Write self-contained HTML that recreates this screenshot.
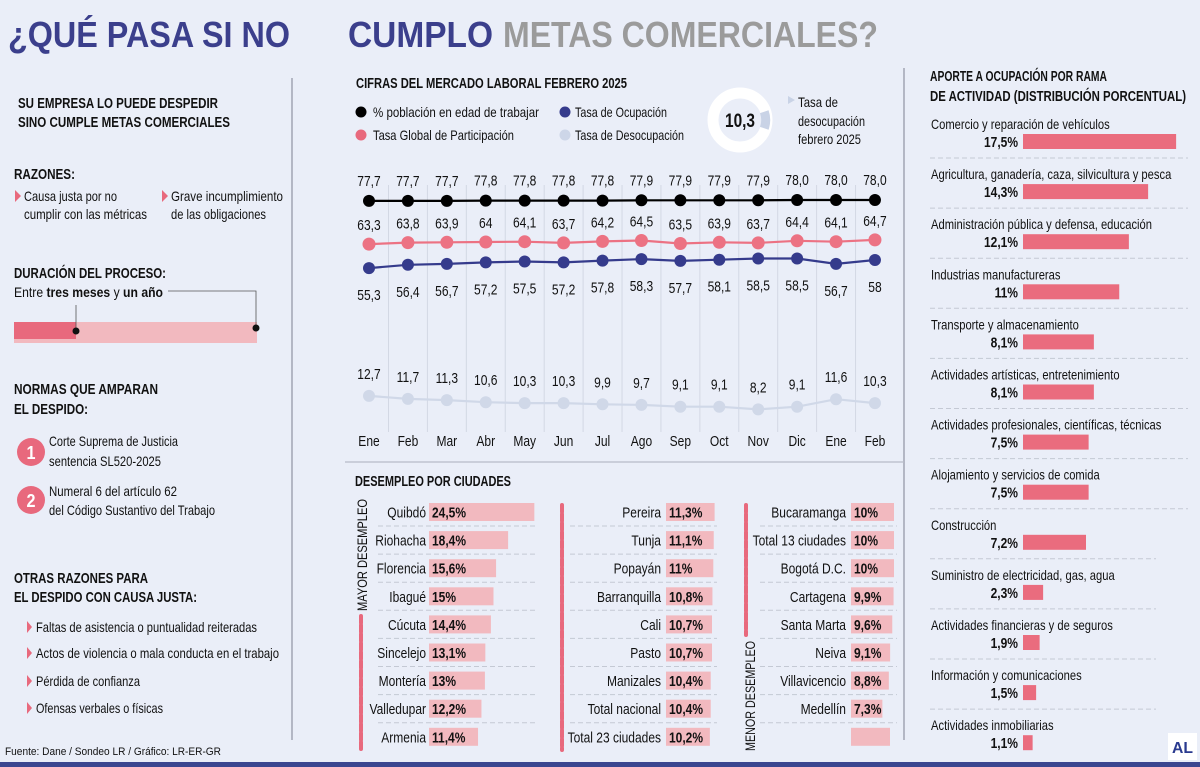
<!DOCTYPE html>
<html><head><meta charset="utf-8">
<style>
html,body{margin:0;padding:0;background:#eaeef8;}
svg{display:block;font-family:"Liberation Sans Narrow","Liberation Sans",sans-serif;}
.b{font-weight:bold;}
</style></head>
<body>
<svg id="pg" width="1200" height="767" viewBox="0 0 1200 767" xmlns="http://www.w3.org/2000/svg">
<rect width="1200" height="767" fill="#eaeef8"/>
<text x="8" y="47" font-size="36" class="b" fill="#3b3f8c" textLength="282" lengthAdjust="spacingAndGlyphs">¿QUÉ PASA SI NO</text>
<text x="348" y="47" font-size="36" class="b" fill="#3b3f8c" textLength="145" lengthAdjust="spacingAndGlyphs">CUMPLO</text>
<text x="503" y="47" font-size="36" class="b" fill="#9b9b9b" textLength="375" lengthAdjust="spacingAndGlyphs">METAS COMERCIALES?</text>
<line x1="292" y1="78" x2="292" y2="740" stroke="#8f93a3" stroke-width="1.2"/>
<line x1="904" y1="68" x2="904" y2="740" stroke="#8f93a3" stroke-width="1.2"/>
<line x1="345" y1="462" x2="904" y2="462" stroke="#b7bcc8" stroke-width="1.2"/>
<rect x="0" y="762" width="1200" height="5" fill="#3b4690"/>

<g fill="#111">
<text x="18" y="108" font-size="14.5" class="b" textLength="200" lengthAdjust="spacingAndGlyphs">SU EMPRESA LO PUEDE DESPEDIR</text>
<text x="18" y="127" font-size="14.5" class="b" textLength="212" lengthAdjust="spacingAndGlyphs">SINO CUMPLE METAS COMERCIALES</text>
<text x="14" y="179" font-size="15" class="b" textLength="61" lengthAdjust="spacingAndGlyphs">RAZONES:</text>
<polygon points="15,190 21,196 15,202" fill="#e8697d"/>
<text x="24" y="201" font-size="14" textLength="93" lengthAdjust="spacingAndGlyphs">Causa justa por no</text>
<text x="24" y="219" font-size="14" textLength="123" lengthAdjust="spacingAndGlyphs">cumplir con las métricas</text>
<polygon points="162,190 168,196 162,202" fill="#e8697d"/>
<text x="171" y="201" font-size="14" textLength="112" lengthAdjust="spacingAndGlyphs">Grave incumplimiento</text>
<text x="171" y="219" font-size="14" textLength="95" lengthAdjust="spacingAndGlyphs">de las obligaciones</text>
<text x="14" y="278" font-size="15" class="b" textLength="152" lengthAdjust="spacingAndGlyphs">DURACIÓN DEL PROCESO:</text>
<text x="14" y="297" font-size="14" textLength="149" lengthAdjust="spacingAndGlyphs">Entre <tspan class="b">tres meses</tspan> y <tspan class="b">un año</tspan></text>
<rect x="14" y="322" width="243" height="21" fill="#f2b9bf"/>
<rect x="14" y="322" width="62" height="17" fill="#e8697d"/>
<polyline points="168,291 256,291 256,328" fill="none" stroke="#555" stroke-width="0.8"/>
<line x1="76" y1="305" x2="76" y2="331" stroke="#555" stroke-width="0.8"/>
<circle cx="256" cy="328" r="3.5" fill="#111"/>
<circle cx="76" cy="331" r="3.5" fill="#111"/>
<text x="14" y="394" font-size="15" class="b" textLength="144" lengthAdjust="spacingAndGlyphs">NORMAS QUE AMPARAN</text>
<text x="14" y="414" font-size="15" class="b" textLength="74" lengthAdjust="spacingAndGlyphs">EL DESPIDO:</text>
<circle cx="31" cy="452" r="14" fill="#e8697d"/>
<text x="31" y="459" font-size="18" class="b" fill="#fff" text-anchor="middle" textLength="9" lengthAdjust="spacingAndGlyphs">1</text>
<text x="49" y="446" font-size="14" textLength="129" lengthAdjust="spacingAndGlyphs">Corte Suprema de Justicia</text>
<text x="49" y="466" font-size="14" textLength="112" lengthAdjust="spacingAndGlyphs">sentencia SL520-2025</text>
<circle cx="31" cy="500" r="14" fill="#e8697d"/>
<text x="31" y="507" font-size="18" class="b" fill="#fff" text-anchor="middle" textLength="9" lengthAdjust="spacingAndGlyphs">2</text>
<text x="49" y="496" font-size="14" textLength="128" lengthAdjust="spacingAndGlyphs">Numeral 6 del artículo 62</text>
<text x="49" y="515" font-size="14" textLength="166" lengthAdjust="spacingAndGlyphs">del Código Sustantivo del Trabajo</text>
<text x="14" y="583" font-size="15" class="b" textLength="134" lengthAdjust="spacingAndGlyphs">OTRAS RAZONES PARA</text>
<text x="14" y="602" font-size="15" class="b" textLength="183" lengthAdjust="spacingAndGlyphs">EL DESPIDO CON CAUSA JUSTA:</text>
<polygon points="27,621 32,627 27,633" fill="#e8697d"/>
<text x="36" y="632" font-size="14" textLength="221" lengthAdjust="spacingAndGlyphs">Faltas de asistencia o puntualidad reiteradas</text>
<polygon points="27,647 32,653 27,659" fill="#e8697d"/>
<text x="36" y="658" font-size="14" textLength="243" lengthAdjust="spacingAndGlyphs">Actos de violencia o mala conducta en el trabajo</text>
<polygon points="27,675 32,681 27,687" fill="#e8697d"/>
<text x="36" y="686" font-size="14" textLength="104" lengthAdjust="spacingAndGlyphs">Pérdida de confianza</text>
<polygon points="27,702 32,708 27,714" fill="#e8697d"/>
<text x="36" y="713" font-size="14" textLength="127" lengthAdjust="spacingAndGlyphs">Ofensas verbales o físicas</text>
<text x="5" y="755" font-size="11" font-family="Liberation Sans, sans-serif" textLength="216" lengthAdjust="spacingAndGlyphs">Fuente: Dane / Sondeo LR / Gráfico: LR-ER-GR</text>
</g>

<text x="356" y="88" font-size="14.5" class="b" fill="#111" textLength="271" lengthAdjust="spacingAndGlyphs">CIFRAS DEL MERCADO LABORAL FEBRERO 2025</text>
<g font-size="14" fill="#111">
<circle cx="361" cy="112" r="5.5" fill="#000"/>
<text x="373" y="117" textLength="166" lengthAdjust="spacingAndGlyphs">% población en edad de trabajar</text>
<circle cx="361" cy="135" r="5.5" fill="#e8697d"/>
<text x="373" y="140" textLength="141" lengthAdjust="spacingAndGlyphs">Tasa Global de Participación</text>
<circle cx="565" cy="112" r="5.5" fill="#353b8c"/>
<text x="575" y="117" textLength="92" lengthAdjust="spacingAndGlyphs">Tasa de Ocupación</text>
<circle cx="565" cy="135" r="5.5" fill="#cdd6e8"/>
<text x="575" y="140" textLength="109" lengthAdjust="spacingAndGlyphs">Tasa de Desocupación</text>
</g>
<g>
<circle cx="740" cy="120" r="27" fill="none" stroke="#fff" stroke-width="11"/>
<path d="M 764.3 111.7 A 25.5 25.5 0 0 1 764.3 128.3" fill="none" stroke="#c9d3e6" stroke-width="9"/>
<text x="740" y="127" font-size="19" class="b" fill="#111" text-anchor="middle" textLength="30" lengthAdjust="spacingAndGlyphs">10,3</text>
<polygon points="788,96 795,100 788,104" fill="#c9d3e6"/>
<text x="798" y="107" font-size="14" fill="#111" textLength="40" lengthAdjust="spacingAndGlyphs">Tasa de</text>
<text x="798" y="126" font-size="14" fill="#111" textLength="67" lengthAdjust="spacingAndGlyphs">desocupación</text>
<text x="798" y="144" font-size="14" fill="#111" textLength="63" lengthAdjust="spacingAndGlyphs">febrero 2025</text>
</g>
<g id="chart"></g>
<g id="cities"></g>
<g id="sectors"></g>
<rect x="1168" y="733" width="29" height="27" fill="#fff"/>
<text x="1182.5" y="753" font-size="16" class="b" fill="#2a3a8f" text-anchor="middle" font-family="Liberation Sans, sans-serif" textLength="21" lengthAdjust="spacingAndGlyphs">AL</text>
</svg>
<script>
const months = ["Ene","Feb","Mar","Abr","May","Jun","Jul","Ago","Sep","Oct","Nov","Dic","Ene","Feb"];
const petValues = [77.7,77.7,77.7,77.8,77.8,77.8,77.8,77.9,77.9,77.9,77.9,78.0,78.0,78.0];
const petLabels = ["77,7","77,7","77,7","77,8","77,8","77,8","77,8","77,9","77,9","77,9","77,9","78,0","78,0","78,0"];
const tgpValues = [63.3,63.8,63.9,64,64.1,63.7,64.2,64.5,63.5,63.9,63.7,64.4,64.1,64.7];
const toValues = [55.3,56.4,56.7,57.2,57.5,57.2,57.8,58.3,57.7,58.1,58.5,58.5,56.7,58];
const tdValues = [12.7,11.7,11.3,10.6,10.3,10.3,9.9,9.7,9.1,9.1,8.2,9.1,11.6,10.3];

const cityNames1 = ["Quibdó","Riohacha","Florencia","Ibagué","Cúcuta","Sincelejo","Montería","Valledupar","Armenia"];
const cityValues1 = [24.5,18.4,15.6,15,14.4,13.1,13,12.2,11.4];
const cityNames2 = ["Pereira","Tunja","Popayán","Barranquilla","Cali","Pasto","Manizales","Total nacional","Total 23 ciudades"];
const cityValues2 = [11.3,11.1,11,10.8,10.7,10.7,10.4,10.4,10.2];
const cityNames3 = ["Bucaramanga","Total 13 ciudades","Bogotá D.C.","Cartagena","Santa Marta","Neiva","Villavicencio","Medellín"];
const cityValues3 = [10,10,10,9.9,9.6,9.1,8.8,7.3];

const sectorNames = ["Comercio y reparación de vehículos","Agricultura, ganadería, caza, silvicultura y pesca","Administración pública y defensa, educación","Industrias manufactureras","Transporte y almacenamiento","Actividades artísticas, entretenimiento","Actividades profesionales, científicas, técnicas","Alojamiento y servicios de comida","Construcción","Suministro de electricidad, gas, agua","Actividades financieras y de seguros","Información y comunicaciones","Actividades inmobiliarias"];
const sectorValues = [17.5,14.3,12.1,11,8.1,8.1,7.5,7.5,7.2,2.3,1.9,1.5,1.1];

const NS="http://www.w3.org/2000/svg";
function mk(tag, attrs, parent, txt){const e=document.createElementNS(NS,tag);for(const k in attrs)e.setAttribute(k,attrs[k]);if(txt!==undefined)e.textContent=txt;parent.appendChild(e);return e;}
const fmt = v => String(v).replace(".",",");

const chart=document.getElementById("chart");
const xS = i => 369 + i*38.92;
const yS = v => 434 - 3*v;
for(let i=0;i<months.length-1;i++){
  const g=mk("line",{x1:xS(i)+19.5,y1:185,x2:xS(i)+19.5,y2:432,stroke:"#d3d8e4","stroke-width":1},chart);
  
  
}
months.forEach((m,i)=>{
  const t=mk("text",{x:xS(i),y:446,"font-size":15,"text-anchor":"middle",fill:"#111"},chart,m);
  
  
});
function series(vals, labels, color, r, labelDy, name){
  const pts=vals.map((v,i)=>xS(i)+","+yS(v)).join(" ");
  const pl=mk("polyline",{points:pts,fill:"none",stroke:color,"stroke-width":2.2},chart);
  
  
  vals.forEach((v,i)=>{
    const c=mk("circle",{cx:xS(i),cy:yS(v),r:r,fill:color},chart);
    
    
    const t=mk("text",{x:xS(i),y:yS(v)+labelDy,"font-size":15,"text-anchor":"middle",fill:"#111"},chart,labels?labels[i]:fmt(v));
    
    
  });
}
series(petValues, petLabels, "#000", 6, -15, "pet");
series(tgpValues, null, "#ec7283", 6.5, -14, "tgp");
series(toValues, null, "#353b8c", 6, 32, "to");
series(tdValues, null, "#d0d8e8", 6, -17, "td");

const cities=document.getElementById("cities");
const h=mk("text",{x:355,y:486,"font-size":14.5,"font-weight":"bold",fill:"#111",textLength:156,lengthAdjust:"spacingAndGlyphs"},cities,"DESEMPLEO POR CIUDADES");


const rowY = i => 512 + i*28.1;
const PX = 4.3;
function cityCol(names, vals, labelEnd, barX, lineX1, lineX2, name, extraEmpty){
  const n = names.length + (extraEmpty?1:0);
  for(let i=0;i<n-1;i++){
    const d=mk("line",{x1:lineX1,y1:rowY(i)+14,x2:lineX2,y2:rowY(i)+14,stroke:"#c4c9d4","stroke-width":1,"stroke-dasharray":"5,3"},cities);
    
    
  }
  names.forEach((c,i)=>{
    const t=mk("text",{x:labelEnd,y:rowY(i)+5.5,"font-size":15,"text-anchor":"end",fill:"#111"},cities,c);
    
    
    const b=mk("rect",{x:barX,y:rowY(i)-9,width:vals[i]*PX,height:18,fill:"#f2b9bf"},cities);
    
    
    const v=mk("text",{x:barX+3,y:rowY(i)+5.5,"font-size":15,"font-weight":"bold",fill:"#111"},cities,fmt(vals[i])+"%");
    
    
  });
  if(extraEmpty){
    const b=mk("rect",{x:barX,y:rowY(names.length)-9,width:10*PX-4,height:18,fill:"#f2b9bf"},cities);
    
    
  }
}
cityCol(cityNames1, cityValues1, 426, 429, 378, 535, "col1", false);
cityCol(cityNames2, cityValues2, 661, 666, 570, 717, "col2", false);
cityCol(cityNames3, cityValues3, 846, 851, 760, 897, "col3", true);
function brace(x,y1,y2,nm){
  const l=mk("line",{x1:x,y1:y1,x2:x,y2:y2,stroke:"#e8697d","stroke-width":4,"stroke-linecap":"round","stroke-dasharray":"7,2"},cities);
  
  
}
brace(361,616,750,"mayor-bracket");
brace(562,505,750,"middle-bracket");
brace(746,505,635,"menor-bracket");
const v1=mk("text",{transform:"translate(367,611) rotate(-90)","font-size":14,fill:"#111",textLength:112,lengthAdjust:"spacingAndGlyphs"},cities,"MAYOR DESEMPLEO");


const v2=mk("text",{transform:"translate(755,751) rotate(-90)","font-size":14,fill:"#111",textLength:110,lengthAdjust:"spacingAndGlyphs"},cities,"MENOR DESEMPLEO");



const sectors=document.getElementById("sectors");
[["APORTE A OCUPACIÓN POR RAMA",81,177],["DE ACTIVIDAD (DISTRIBUCIÓN PORCENTUAL)",101,256]].forEach(a=>{
  const t=mk("text",{x:930,y:a[1],"font-size":14.5,"font-weight":"bold",fill:"#111",textLength:a[2],lengthAdjust:"spacingAndGlyphs"},sectors,a[0]);
  
  
});
const SPX = 8.75;
sectorNames.forEach((s,i)=>{
  const y0=125+i*50.1;
  const t=mk("text",{x:931,y:y0+4,"font-size":14,fill:"#111"},sectors,s);
  
  
  const v=mk("text",{x:1018,y:y0+22,"font-size":15,"font-weight":"bold","text-anchor":"end",fill:"#111"},sectors,fmt(sectorValues[i])+"%");
  
  
  const b=mk("rect",{x:1023,y:y0+9,width:sectorValues[i]*SPX,height:15,fill:"#ea6c7e"},sectors);
  
  
  if(i<sectorNames.length-1){
    const d=mk("line",{x1:930,y1:y0+33,x2:i<8?1188:1156,y2:y0+33,stroke:"#c4c9d4","stroke-width":1,"stroke-dasharray":"5,3"},sectors);
    
    
  }
});
// emulate condensed typeface: compress any text lacking an explicit length
document.querySelectorAll('#pg text').forEach(t=>{
  if(t.hasAttribute('textLength')) return;
  const w=t.getComputedTextLength();
  t.setAttribute('textLength', (w*0.8).toFixed(1));
  t.setAttribute('lengthAdjust','spacingAndGlyphs');
});
</script>
</body></html>
